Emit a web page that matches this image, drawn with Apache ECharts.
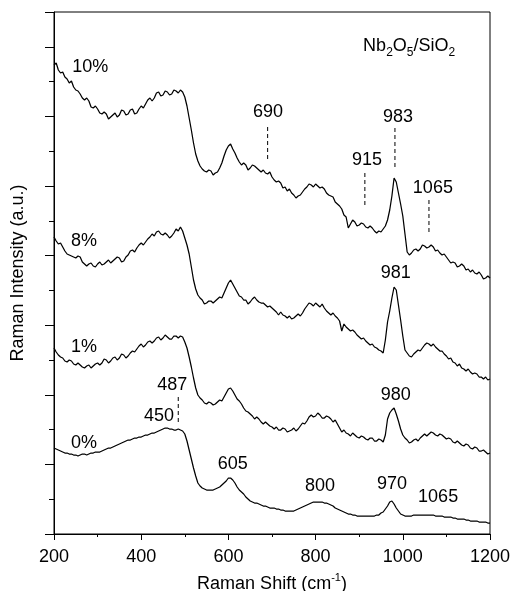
<!DOCTYPE html>
<html>
<head>
<meta charset="utf-8">
<script src="https://cdn.jsdelivr.net/npm/echarts@6/dist/echarts.min.js"></script>
<style>
  html, body { margin: 0; padding: 0; background: #fff; }
  #chart { width: 512px; height: 591px; }
</style>
</head>
<body>
<div id="chart"></div>
<script>
// Raman shift sampling, cm-1 (200 .. 1200 every 5)
const shift = [];
for (let s = 200; s <= 1200; s += 5) shift.push(s);

// intensities (a.u., offset for stacking); one row per 100 cm-1
const nb10 = [
  469,471,464,461,462,457,455,451,453,447,444,443,440,436,434,436,433,427,426,428,
  425,421,420,422,420,415,417,419,421,417,419,424,423,419,420,424,425,420,421,425,
  428,426,430,434,436,433,436,441,442,438,439,443,442,439,440,444,443,441,444,442,
  437,428,416,404,391,380,373,368,365,363,362,364,363,359,361,362,366,371,378,384,
  388,390,385,381,376,372,369,371,369,364,366,369,368,366,364,362,364,361,360,362,
  357,354,352,353,351,346,347,343,345,341,339,336,338,339,342,345,347,350,349,347,
  350,348,346,347,345,341,339,338,337,332,330,328,325,319,317,306,310,314,312,308,
  309,311,310,307,306,308,306,303,301,303,302,305,308,314,324,338,356,352,341,330,
  318,300,282,279,281,284,285,283,285,289,288,286,287,289,287,283,284,281,279,280,
  277,274,271,272,271,267,268,270,268,264,265,262,264,261,260,262,259,255,256,258,
  256
];
const nb8 = [
  297,293,290,291,287,283,280,279,278,277,276,278,277,272,270,268,270,271,268,267,
  270,272,269,270,272,274,271,273,275,277,276,272,273,277,279,283,284,282,286,289,
  291,289,292,295,297,300,298,302,303,300,299,301,299,296,298,301,305,303,307,303,
  296,289,280,267,254,245,239,236,234,230,231,233,233,231,233,235,237,236,241,246,
  251,254,250,246,242,238,237,234,234,230,232,235,237,234,232,231,231,229,227,228,
  226,224,222,219,222,219,218,216,218,215,216,218,220,218,221,225,228,231,230,228,
  231,229,227,230,226,223,221,219,221,218,216,213,203,210,207,205,203,204,202,199,
  197,195,196,193,191,189,190,187,186,184,183,181,194,212,223,236,247,244,229,214,
  198,184,181,178,177,180,182,184,183,186,189,191,190,188,190,187,185,183,183,180,
  178,175,176,172,171,168,170,166,165,163,165,162,160,161,160,157,157,155,157,154,
  155
];
const nb1 = [
  186,182,179,177,176,173,172,174,173,170,169,171,169,167,166,168,169,166,168,170,
  171,169,171,175,174,171,173,176,177,174,176,180,179,176,178,181,183,182,185,188,
  190,187,189,192,193,191,193,196,197,194,196,199,197,195,195,198,198,196,198,197,
  192,186,177,167,156,146,139,136,134,131,130,132,131,129,130,132,134,133,137,141,
  145,146,143,139,135,133,130,126,123,122,120,118,115,117,115,112,110,112,110,108,
  107,105,107,104,104,106,105,102,103,104,106,103,105,108,111,110,113,117,119,117,
  118,121,119,116,116,118,117,115,112,114,110,106,102,104,101,100,98,101,99,97,
  96,98,97,95,94,96,96,93,93,95,94,92,99,115,121,124,126,120,113,105,
  99,96,94,91,92,94,95,93,96,98,100,98,100,102,101,99,98,100,99,97,
  95,96,95,92,91,93,91,89,88,90,89,86,85,87,86,83,83,84,82,80,
  81
];
const nb0 = [
  86,85,84,83,82,81,81,80,80,79,79,78,79,80,80,79,80,81,81,82,
  82,82,83,84,85,86,86,87,88,89,90,91,92,93,94,94,95,96,96,97,
  97,98,99,99,100,101,101,102,103,104,105,106,106,105,105,104,104,105,104,103,
  100,93,84,75,66,58,51,48,46,45,44,44,44,44,45,46,47,49,51,53,
  56,56,54,51,47,44,42,40,37,35,33,32,31,31,30,29,28,28,27,26,
  26,26,25,25,24,24,23,23,23,23,23,24,25,26,27,28,29,30,31,32,
  32,32,32,32,31,31,30,29,28,26,25,24,23,22,21,20,20,19,19,18,
  18,18,18,18,18,18,18,18,19,19,21,22,25,28,32,33,30,26,23,20,
  19,18,18,18,18,19,19,19,19,19,19,19,19,19,19,18,18,18,18,17,
  17,17,17,16,16,15,15,15,15,14,14,13,13,13,13,12,12,12,12,11,
  11
];

// text annotations [shift, intensity, text]
const notes = [
  [283, 467, '10%'], [269, 293, '8%'], [269, 187, '1%'], [269, 91, '0%'],
  [471, 149, '487'], [441, 118, '450'], [610, 70, '605'], [810, 48, '800'],
  [975, 50, '970'], [1081, 37, '1065'], [984, 139, '980'], [984, 261, '981'],
  [989, 417, '983'], [918, 374, '915'], [691, 422, '690'], [1069, 346, '1065']
];
// dashed peak markers [shift, from, to]
const marks = [
  [485, 137, 112], [982, 406, 367], [913, 361, 326], [690, 407, 374], [1060, 334, 299]
];

const font = '"Liberation Sans", Arial, sans-serif';
const spectra = [nb10, nb8, nb1, nb0];

const series = spectra.map(arr => ({
  type: 'line',
  data: shift.map((s, i) => [s, arr[i]]),
  symbol: 'none',
  lineStyle: { color: '#000', width: 1.25 },
  silent: true
}));

marks.forEach(m => {
  series.push({
    type: 'line',
    data: [[m[0], m[1]], [m[0], m[2]]],
    symbol: 'none',
    lineStyle: { color: '#000', width: 1, type: [4, 3] },
    silent: true
  });
});

series.push({
  type: 'scatter',
  symbolSize: 0,
  itemStyle: { opacity: 1 },
  data: notes,
  label: {
    show: true,
    position: 'inside',
    formatter: p => p.data[2],
    fontSize: 18,
    color: '#000',
    fontFamily: font
  },
  silent: true
});

series.push({
  type: 'scatter',
  symbolSize: 0,
  itemStyle: { opacity: 1 },
  data: [[909, 488]],
  label: {
    show: true,
    position: 'right',
    distance: 0,
    formatter: '{a|Nb}{s|2}{a|O}{s|5}{a|/SiO}{s|2}',
    rich: {
      a: { fontSize: 18, lineHeight: 26, color: '#000', fontFamily: font },
      s: { fontSize: 12, lineHeight: 12, verticalAlign: 'bottom', color: '#000', fontFamily: font }
    }
  },
  silent: true
});

const chart = echarts.init(document.getElementById('chart'));
chart.setOption({
  animation: false,
  backgroundColor: '#fff',
  textStyle: { fontFamily: font },
  grid: {
    left: 54, right: 22, top: 12, bottom: 57,
    containLabel: false, outerBoundsMode: 'none',
    show: true, borderColor: '#000', borderWidth: 1
  },
  xAxis: {
    type: 'value',
    min: 200,
    max: 1200,
    interval: 200,
    name: '{n|Raman Shift (cm}{sup|-1}{n|)}',
    nameLocation: 'middle',
    nameGap: 38,
    nameTextStyle: {
      rich: {
        n: { fontSize: 18, lineHeight: 24, color: '#000', fontFamily: font },
        sup: { fontSize: 11, lineHeight: 11, verticalAlign: 'top', color: '#000', fontFamily: font }
      }
    },
    axisLine: { lineStyle: { color: '#000', width: 1 } },
    axisTick: { inside: false, length: 6, lineStyle: { color: '#000' } },
    minorTick: { show: true, splitNumber: 2, length: 3, lineStyle: { color: '#000' } },
    axisLabel: { fontSize: 18, color: '#000', margin: 14, fontFamily: font, formatter: v => String(v) },
    splitLine: { show: false }
  },
  yAxis: {
    type: 'value',
    min: 0,
    max: 522,
    interval: 69.6,
    name: 'Raman Intensity (a.u.)',
    nameLocation: 'middle',
    nameGap: 27,
    nameTextStyle: { fontSize: 18, color: '#000', fontFamily: font },
    axisLine: { show: true, lineStyle: { color: '#000', width: 1 } },
    axisTick: { show: true, inside: false, length: 9, lineStyle: { color: '#000' } },
    minorTick: { show: true, splitNumber: 2, length: 5, lineStyle: { color: '#000' } },
    axisLabel: { show: false },
    splitLine: { show: false }
  },
  series: series
});
</script>
</body>
</html>
